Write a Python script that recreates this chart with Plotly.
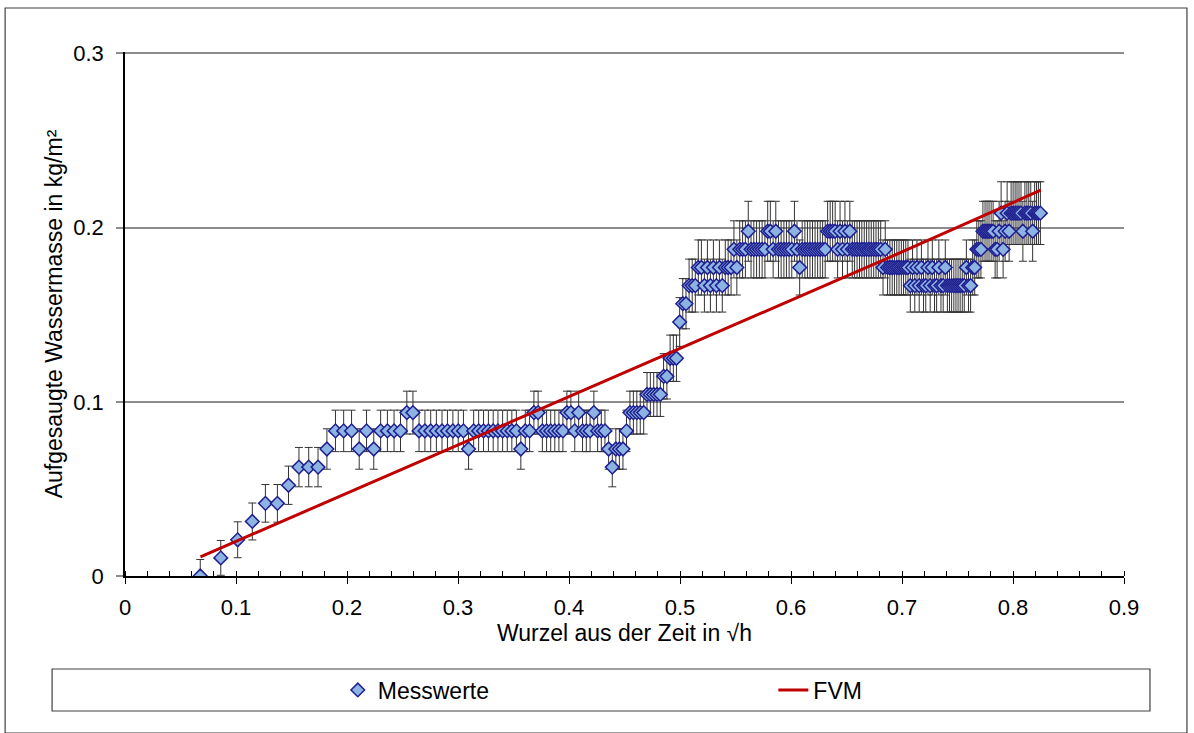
import plotly.graph_objects as go

# --- data ---
x_sqrt_h = [
    0.0678, 0.0863, 0.1015, 0.1147, 0.1265, 0.1373, 0.1473, 0.1567, 0.1655, 0.1739,
    0.1819, 0.1896, 0.1970, 0.2041, 0.2110, 0.2176, 0.2241, 0.2303, 0.2364, 0.2424,
    0.2482, 0.2539, 0.2594, 0.2649, 0.2702, 0.2754, 0.2805, 0.2856, 0.2905, 0.2954,
    0.3002, 0.3049, 0.3095, 0.3141, 0.3186, 0.3230, 0.3274, 0.3317, 0.3360, 0.3402,
    0.3444, 0.3485, 0.3526, 0.3566, 0.3606, 0.3645, 0.3684, 0.3722, 0.3760, 0.3798,
    0.3835, 0.3872, 0.3909, 0.3945, 0.3981, 0.4017, 0.4052, 0.4087, 0.4122, 0.4156,
    0.4190, 0.4224, 0.4258, 0.4291, 0.4324, 0.4357, 0.4390, 0.4422, 0.4454, 0.4486,
    0.4518, 0.4549, 0.4580, 0.4611, 0.4642, 0.4673, 0.4703, 0.4733, 0.4763, 0.4793,
    0.4823, 0.4852, 0.4882, 0.4911, 0.4940, 0.4968, 0.4997, 0.5025, 0.5054, 0.5082,
    0.5110, 0.5138, 0.5165, 0.5193, 0.5220, 0.5247, 0.5274, 0.5301, 0.5328, 0.5355,
    0.5381, 0.5408, 0.5434, 0.5460, 0.5486, 0.5512, 0.5538, 0.5564, 0.5589, 0.5615,
    0.5640, 0.5665, 0.5690, 0.5715, 0.5740, 0.5765, 0.5790, 0.5814, 0.5839, 0.5863,
    0.5887, 0.5911, 0.5936, 0.5959, 0.5983, 0.6007, 0.6031, 0.6054, 0.6078, 0.6101,
    0.6125, 0.6148, 0.6171, 0.6194, 0.6217, 0.6240, 0.6263, 0.6285, 0.6308, 0.6330,
    0.6353, 0.6375, 0.6398, 0.6420, 0.6442, 0.6464, 0.6486, 0.6508, 0.6530, 0.6552,
    0.6573, 0.6595, 0.6617, 0.6638, 0.6660, 0.6681, 0.6702, 0.6723, 0.6745, 0.6766,
    0.6787, 0.6808, 0.6829, 0.6849, 0.6870, 0.6891, 0.6912, 0.6932, 0.6953, 0.6973,
    0.6994, 0.7014, 0.7034, 0.7054, 0.7075, 0.7095, 0.7115, 0.7135, 0.7155, 0.7175,
    0.7194, 0.7214, 0.7234, 0.7254, 0.7273, 0.7293, 0.7312, 0.7332, 0.7351, 0.7371,
    0.7390, 0.7409, 0.7428, 0.7447, 0.7467, 0.7486, 0.7505, 0.7524, 0.7543, 0.7561,
    0.7580, 0.7599, 0.7618, 0.7637, 0.7655, 0.7674, 0.7692, 0.7711, 0.7729, 0.7748,
    0.7766, 0.7784, 0.7803, 0.7821, 0.7839, 0.7857, 0.7875, 0.7893, 0.7911, 0.7929,
    0.7947, 0.7965, 0.7983, 0.8001, 0.8019, 0.8036, 0.8054, 0.8072, 0.8089, 0.8107,
    0.8125, 0.8142, 0.8160, 0.8177, 0.8195, 0.8212, 0.8229, 0.8247,
]

mass_kg_m2 = [
    0.0, 0.0104, 0.0208, 0.0313, 0.0417, 0.0417, 0.0521, 0.0625, 0.0625, 0.0625,
    0.0729, 0.0833, 0.0833, 0.0833, 0.0729, 0.0833, 0.0729, 0.0833, 0.0833, 0.0833,
    0.0833, 0.0938, 0.0938, 0.0833, 0.0833, 0.0833, 0.0833, 0.0833, 0.0833, 0.0833,
    0.0833, 0.0833, 0.0729, 0.0833, 0.0833, 0.0833, 0.0833, 0.0833, 0.0833, 0.0833,
    0.0833, 0.0833, 0.0833, 0.0729, 0.0833, 0.0833, 0.0938, 0.0938, 0.0833, 0.0833,
    0.0833, 0.0833, 0.0833, 0.0833, 0.0938, 0.0938, 0.0833, 0.0938, 0.0833, 0.0833,
    0.0833, 0.0938, 0.0833, 0.0833, 0.0833, 0.0729, 0.0625, 0.0729, 0.0729, 0.0729,
    0.0833, 0.0938, 0.0938, 0.0938, 0.0938, 0.0938, 0.1042, 0.1042, 0.1042, 0.1042,
    0.1042, 0.1146, 0.1146, 0.1250, 0.1250, 0.1250, 0.1458, 0.1563, 0.1563, 0.1667,
    0.1667, 0.1667, 0.1771, 0.1771, 0.1667, 0.1771, 0.1667, 0.1771, 0.1667, 0.1771,
    0.1667, 0.1771, 0.1771, 0.1771, 0.1875, 0.1771, 0.1875, 0.1875, 0.1875, 0.1979,
    0.1875, 0.1875, 0.1875, 0.1875, 0.1875, 0.1875, 0.1979, 0.1979, 0.1875, 0.1979,
    0.1875, 0.1875, 0.1875, 0.1875, 0.1875, 0.1875, 0.1979, 0.1875, 0.1771, 0.1875,
    0.1875, 0.1875, 0.1875, 0.1875, 0.1875, 0.1875, 0.1875, 0.1875, 0.1875, 0.1979,
    0.1979, 0.1979, 0.1979, 0.1875, 0.1979, 0.1875, 0.1979, 0.1875, 0.1979, 0.1875,
    0.1875, 0.1875, 0.1875, 0.1875, 0.1875, 0.1875, 0.1875, 0.1875, 0.1875, 0.1875,
    0.1875, 0.1875, 0.1771, 0.1875, 0.1771, 0.1771, 0.1771, 0.1771, 0.1771, 0.1771,
    0.1771, 0.1771, 0.1771, 0.1771, 0.1667, 0.1771, 0.1667, 0.1771, 0.1667, 0.1771,
    0.1667, 0.1667, 0.1771, 0.1667, 0.1771, 0.1667, 0.1667, 0.1771, 0.1667, 0.1667,
    0.1771, 0.1667, 0.1667, 0.1667, 0.1667, 0.1667, 0.1667, 0.1667, 0.1667, 0.1667,
    0.1771, 0.1667, 0.1667, 0.1771, 0.1771, 0.1875, 0.1875, 0.1875, 0.1979, 0.1979,
    0.1979, 0.1979, 0.1979, 0.1979, 0.1875, 0.1875, 0.1979, 0.2083, 0.1875, 0.1979,
    0.2083, 0.1979, 0.2083, 0.2083, 0.2083, 0.2083, 0.2083, 0.2083, 0.1979, 0.2083,
    0.2083, 0.2083, 0.2083, 0.1979, 0.2083, 0.2083, 0.2083, 0.2083,
]

# error bar half-length read per measured level
level_values = [0.0, 0.0104, 0.0208, 0.0313, 0.0417, 0.0521, 0.0625, 0.0729, 0.0833,
                0.0938, 0.1042, 0.1146, 0.1250, 0.1354, 0.1458, 0.1563, 0.1667,
                0.1771, 0.1875, 0.1979, 0.2083]
level_errors = [0.0095, 0.0100, 0.0103, 0.0106, 0.0108, 0.0110, 0.0113, 0.0116, 0.0119,
                0.0123, 0.0126, 0.0130, 0.0133, 0.0137, 0.0140, 0.0144, 0.0152,
                0.0158, 0.0164, 0.0172, 0.0180]
err_lookup = dict(zip(level_values, level_errors))
mass_err = [err_lookup[v] for v in mass_kg_m2]

fvm_x = [0.068, 0.2, 0.3, 0.4, 0.5, 0.6, 0.7, 0.825]
fvm_y = [0.0110, 0.0475, 0.0752, 0.1029, 0.1305, 0.1582, 0.1860, 0.2215]

FONT = "Liberation Sans, Arial, sans-serif"
FS_TICK = 22
FS_TEXT = 23

fig = go.Figure()
fig.add_trace(go.Scatter(
    x=x_sqrt_h, y=mass_kg_m2, mode="markers", name="Messwerte", legend="legend",
    marker=dict(symbol="diamond", size=10.5, color="#8DB3E2",
                line=dict(color="#1F1F8F", width=1.5)),
    error_y=dict(type="data", array=mass_err, visible=True,
                 color="#333333", thickness=1, width=4),
))
fig.add_trace(go.Scatter(
    x=fvm_x, y=fvm_y, mode="lines", name="FVM", legend="legend2",
    line=dict(color="#C00000", width=3),
))

leg_common = dict(orientation="h", xanchor="left", yanchor="middle", y=-0.2176,
                  font=dict(family=FONT, size=FS_TEXT, color="black"),
                  bgcolor="rgba(0,0,0,0)", borderwidth=0)

fig.update_layout(
    width=1194, height=733,
    margin=dict(l=125, r=70, t=52, b=157),
    paper_bgcolor="white", plot_bgcolor="white",
    font=dict(family=FONT, size=FS_TEXT, color="black"),
    showlegend=True,
    legend=dict(x=0.213, **leg_common),
    legend2=dict(x=0.649, **leg_common),
    xaxis=dict(range=[0, 0.9], dtick=0.1, tick0=0, showgrid=False, zeroline=False,
               showline=True, linecolor="black", linewidth=1.5,
               ticks="outside", ticklen=6, tickcolor="black", tickwidth=1,
               minor=dict(dtick=0.02, ticks="inside", ticklen=5, tickcolor="black", tickwidth=1),
               tickfont=dict(family=FONT, size=FS_TICK), ticklabelstandoff=5,
               title=dict(text="Wurzel aus der Zeit in √h", standoff=5,
                          font=dict(family=FONT, size=FS_TEXT))),
    yaxis=dict(range=[0, 0.3008], dtick=0.1, tick0=0, showgrid=True, gridcolor="#8C8C8C",
               gridwidth=1.5, zeroline=False,
               showline=True, linecolor="black", linewidth=1.5,
               ticks="outside", ticklen=7, tickcolor="#8C8C8C", tickwidth=1.5,
               tickfont=dict(family=FONT, size=FS_TICK), ticklabelstandoff=8,
               title=dict(text="Aufgesaugte Wassermasse in kg/m²", standoff=4,
                          font=dict(family=FONT, size=FS_TEXT))),
    shapes=[
        # legend frame
        dict(type="rect", xref="paper", yref="paper", x0=-0.073, x1=1.026,
             y0=-0.2576, y1=-0.1775, line=dict(color="#404040", width=1.2),
             fillcolor="rgba(0,0,0,0)", layer="below"),
        # outer chart frame
        dict(type="rect", xref="paper", yref="paper", x0=-0.120, x1=1.063,
             y0=-0.300, y1=1.0840, line=dict(color="#404040", width=1.2),
             fillcolor="rgba(0,0,0,0)", layer="below"),
    ],
)

fig.write_html("out.html")
